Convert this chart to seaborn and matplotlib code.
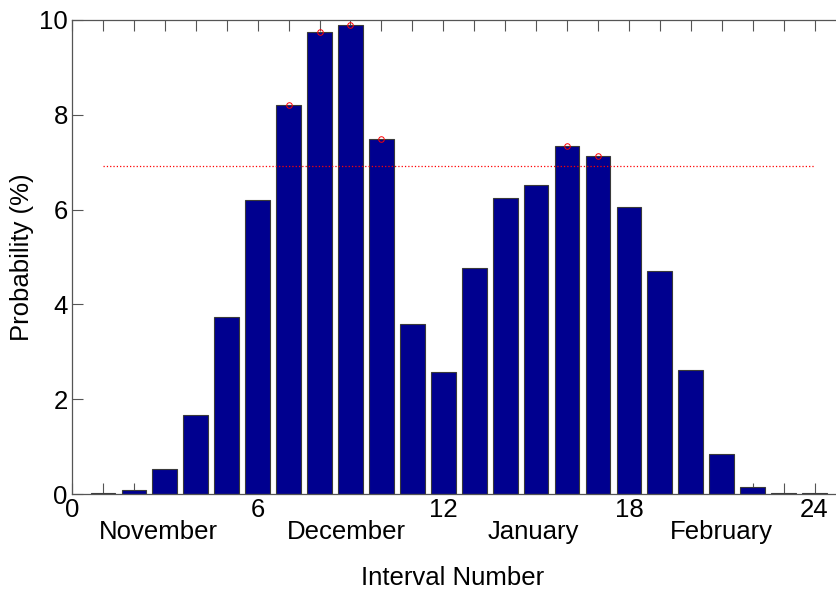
import matplotlib
matplotlib.use("Agg")
import matplotlib.pyplot as plt
import seaborn as sns
import numpy as np
import pandas as pd

intervals = list(range(1, 25))
probability = [0.015, 0.09, 0.52, 1.67, 3.73, 6.20, 8.21, 9.74, 9.89, 7.49, 3.59, 2.57,
               4.77, 6.24, 6.52, 7.34, 7.13, 6.05, 4.70, 2.62, 0.84, 0.15, 0.015, 0.015]
threshold = 6.91
threshold_span = [1, 24]
months = ["November", "December", "January", "February"]
month_pos = [2.78, 8.87, 14.92, 21.0]
xtick_labels = ["0", "6", "12", "18", "24"]
ytick_labels = ["0", "2", "4", "6", "8", "10"]

sns.set_style("white")
plt.rcParams['font.family'] = ['Liberation Sans', 'DejaVu Sans']
plt.rcParams['text.color'] = 'black'
plt.rcParams['xtick.labelcolor'] = 'black'
plt.rcParams['ytick.labelcolor'] = 'black'

FS = 18.5

fig = plt.figure(figsize=(8.37, 5.92), dpi=100)
ax = fig.add_axes([72/837, 1-494/592, 1-72/837+0.002, (494-20)/592])

df = pd.DataFrame({"interval": intervals, "prob": probability})
sns.barplot(data=df, x="interval", y="prob", native_scale=True, width=0.8,
            color="#00008F", saturation=1, edgecolor="#3a3a3a", linewidth=0.8, ax=ax)

# threshold line
tl = pd.DataFrame({"x": threshold_span, "y": [threshold, threshold]})
sns.lineplot(data=tl, x="x", y="y", color="red", linestyle=":", linewidth=0.9, ax=ax)

# markers for bars above threshold
above = df[df["prob"] > threshold]
ax.plot(above["interval"], above["prob"], linestyle="none", marker="o", markersize=4,
        markerfacecolor="none", markeredgecolor="red", markeredgewidth=0.7, zorder=5)

ax.set_xlim(0, 24.78)
ax.set_ylim(0, 10)
ax.set_xticks([0, 6, 12, 18, 24])
ax.set_xticklabels(xtick_labels)
ax.set_xticks(range(0, 25), minor=True)
ax.set_yticks([0, 2, 4, 6, 8, 10])
ax.set_yticklabels(ytick_labels)
ax.tick_params(axis="both", which="both", direction="in", length=8, width=0.8,
               color="#555555", labelsize=FS, labelcolor="black", pad=3)
ax.tick_params(axis="x", which="both", top=True, bottom=True)
ax.tick_params(axis="y", which="both", left=True, right=False)
for side in ["left", "bottom", "top"]:
    ax.spines[side].set_visible(True)
    ax.spines[side].set_color("#555555")
    ax.spines[side].set_linewidth(0.9)
ax.spines["right"].set_visible(False)

for m, p in zip(months, month_pos):
    ax.text(p, -0.08, m, transform=ax.get_xaxis_transform(), ha="center", va="center",
            fontsize=FS, color="black")

ax.set_xlabel("")
ax.set_ylabel("")
fig.text(453/837, 1-578/592, "Interval Number", ha="center", va="center", fontsize=FS,
         color="black")
fig.text(22/837, 1-257/592, "Probability (%)", ha="center", va="center", fontsize=FS,
         rotation=90, color="black")

fig.savefig("out.png", dpi=100)
